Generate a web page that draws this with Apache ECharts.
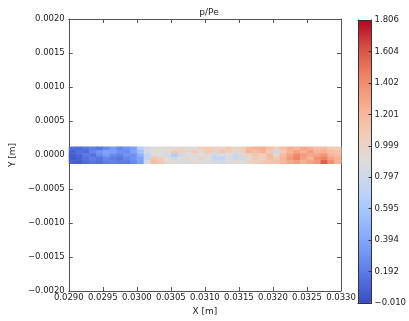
<!DOCTYPE html>
<html>
<head>
<meta charset="utf-8">
<script src="https://cdn.jsdelivr.net/npm/echarts@6/dist/echarts.min.js"></script>
<style>
  html, body { margin: 0; padding: 0; background: #fff; }
  #chart { width: 409px; height: 321px; }
</style>
</head>
<body>
<div id="chart"></div>
<script>
// p/Pe, 40 columns along X (0.0290 .. 0.0330), 5 rows along Y (top to bottom)
var xStart = 0.029, xStep = 0.0001;
var yEdges = [0.000125, 0.000075, 0.000025, -0.000025, -0.000075, -0.000125];
var row0 = [0.14,0.12,0.16,0.20,0.16,0.26,0.34,0.24,0.30,0.36,
            0.66,0.82,0.90,0.92,0.95,0.90,1.00,0.95,0.92,1.05,
            1.08,1.05,1.00,1.10,0.98,1.05,1.18,1.22,1.25,1.15,
            1.05,1.15,1.25,1.20,1.28,1.22,1.15,1.18,1.10,1.08];
var row1 = [0.08,0.14,0.12,0.24,0.30,0.38,0.36,0.28,0.26,0.38,
            0.56,0.85,0.92,0.88,0.93,1.10,1.05,0.92,1.08,0.95,
            1.10,0.98,1.12,1.05,0.95,1.02,1.20,1.15,1.22,1.10,
            0.80,1.10,1.22,1.30,1.25,1.32,1.20,1.25,1.15,1.12];
var row2 = [0.06,0.10,0.18,0.14,0.26,0.34,0.26,0.22,0.30,0.28,
            0.46,0.72,0.88,0.90,0.85,0.65,0.80,0.90,0.94,0.92,
            0.95,0.78,0.85,0.92,0.80,0.96,1.00,1.12,1.05,1.18,
            0.95,1.18,1.30,1.42,1.35,1.28,1.30,1.35,1.22,1.18];
var row3 = [0.05,0.08,0.14,0.20,0.16,0.24,0.20,0.16,0.24,0.30,
            0.38,0.75,1.12,1.05,0.92,0.80,0.88,0.95,0.90,0.96,
            0.92,0.75,0.72,0.88,0.78,0.82,0.95,1.08,1.02,1.15,
            1.10,1.22,1.35,1.45,1.30,1.25,1.38,1.45,1.30,1.25];
var row4 = [0.08,0.06,0.12,0.16,0.14,0.20,0.22,0.18,0.18,0.26,
            0.34,0.85,1.15,1.10,0.95,0.90,0.92,0.88,0.94,0.90,
            0.90,0.85,0.80,0.90,0.95,0.88,1.00,1.05,1.10,1.12,
            1.15,1.20,1.28,1.32,1.25,1.30,1.35,1.58,1.40,1.22];
var rows = [row0, row1, row2, row3, row4];
var cbMin = -0.010, cbMax = 1.806;
var cbTicks = ['\u22120.010','0.192','0.394','0.595','0.797','0.999','1.201','1.402','1.604','1.806'];
var coolwarm = ['#3b4cc0','#5977e3','#7b9ff9','#9ebeff','#c0d4f5','#dddcdc','#f2cbb7','#f7ac8e','#ee8468','#d65244','#b40426'];

var cells = [];
for (var r = 0; r < rows.length; r++) {
    for (var c = 0; c < rows[r].length; c++) {
        cells.push([xStart + c * xStep, yEdges[r], rows[r][c], yEdges[r + 1]]);
    }
}

function fmt4(v) {
    var s = Math.abs(v) < 1e-12 ? '0.0000' : v.toFixed(4);
    return s.replace('-', '\u2212');
}

var font = 'DejaVu Sans';
var axisCol = '#555';
var chart = echarts.init(document.getElementById('chart'));
var tickStyle = { inside: true, length: 4, lineStyle: { color: axisCol } };
var lineStyle = { show: true, onZero: false, lineStyle: { color: axisCol, width: 1 } };
var frame = { show: true, onZero: false, lineStyle: { color: '#333', width: 1 } };
var lbl = { fontFamily: font, fontSize: 8.5, color: '#222' };

var option = {
    animation: false,
    textStyle: { fontFamily: font },
    title: {
        text: 'p/Pe', left: 204, top: 3, textAlign: 'center',
        textStyle: { fontFamily: font, fontSize: 9, fontWeight: 'normal', color: '#222' }
    },
    grid: [
        { left: 68, top: 19, width: 273, height: 276 },
        { left: 358, top: 20, width: 14, height: 283 }
    ],
    xAxis: [
        { gridIndex: 0, type: 'value', min: 0.029, max: 0.033, interval: 0.0005,
          name: 'X [m]', nameLocation: 'middle', nameGap: 16,
          nameTextStyle: { fontFamily: font, fontSize: 9, color: '#222' },
          axisLine: lineStyle, axisTick: tickStyle, splitLine: { show: false },
          axisLabel: Object.assign({ margin: 2, formatter: fmt4 }, lbl) },
        { gridIndex: 0, type: 'value', position: 'top', min: 0.029, max: 0.033, interval: 0.0005,
          axisLine: lineStyle, axisTick: tickStyle, splitLine: { show: false },
          axisLabel: { show: false } },
        { gridIndex: 1, type: 'value', min: 0, max: 1, z: 10,
          axisLine: frame, axisTick: { show: false }, axisLabel: { show: false }, splitLine: { show: false } },
        { gridIndex: 1, type: 'value', position: 'top', min: 0, max: 1, z: 10,
          axisLine: frame, axisTick: { show: false }, axisLabel: { show: false }, splitLine: { show: false } }
    ],
    yAxis: [
        { gridIndex: 0, type: 'value', min: -0.002, max: 0.002, interval: 0.0005,
          name: 'Y [m]', nameLocation: 'middle', nameGap: 48,
          nameTextStyle: { fontFamily: font, fontSize: 9, color: '#222' },
          axisLine: lineStyle, axisTick: tickStyle, splitLine: { show: false },
          axisLabel: Object.assign({ margin: 4, formatter: fmt4 }, lbl) },
        { gridIndex: 0, type: 'value', position: 'right', min: -0.002, max: 0.002, interval: 0.0005,
          axisLine: lineStyle, axisTick: tickStyle, splitLine: { show: false },
          axisLabel: { show: false } },
        { gridIndex: 1, type: 'value', position: 'right', min: 0, max: 9, interval: 1, z: 10,
          axisLine: frame, axisTick: { inside: true, length: 3, lineStyle: { color: '#333' } },
          splitLine: { show: false },
          axisLabel: Object.assign({ margin: 3, formatter: function (v) { return cbTicks[Math.round(v)]; } }, lbl) },
        { gridIndex: 1, type: 'value', position: 'left', min: 0, max: 9, interval: 1, z: 10,
          axisLine: frame, axisTick: { show: false }, axisLabel: { show: false }, splitLine: { show: false } }
    ],
    visualMap: {
        type: 'continuous', min: cbMin, max: cbMax, dimension: 2, seriesIndex: 0,
        calculable: false, hoverLink: false, realtime: false,
        left: 358, top: 20, itemWidth: 14, itemHeight: 283, padding: 0,
        text: null, showLabel: false,
        inRange: { color: coolwarm }
    },
    series: [
        {
            type: 'custom', xAxisIndex: 0, yAxisIndex: 0, data: cells,
            renderItem: function (params, api) {
                var p1 = api.coord([api.value(0), api.value(1)]);
                var p2 = api.coord([api.value(0) + xStep, api.value(3)]);
                return {
                    type: 'rect',
                    shape: { x: p1[0], y: p1[1], width: p2[0] - p1[0] + 0.5, height: p2[1] - p1[1] + 0.5 },
                    style: { fill: api.visual('color') }
                };
            }
        }
    ]
};
chart.setOption(option);
</script>
</body>
</html>
